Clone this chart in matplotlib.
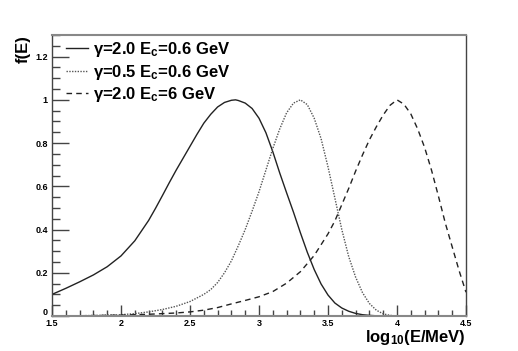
import matplotlib
matplotlib.use("Agg")
import matplotlib.pyplot as plt
import matplotlib.transforms as mtransforms
from matplotlib.ticker import MultipleLocator, FormatStrFormatter

plt.rcParams['font.family'] = ['Liberation Sans', 'DejaVu Sans']
plt.rcParams['font.weight'] = 'bold'
plt.rcParams['mathtext.fontset'] = 'custom'
plt.rcParams['mathtext.rm'] = 'Liberation Sans:bold'
plt.rcParams['mathtext.it'] = 'Liberation Sans:bold'
plt.rcParams['mathtext.bf'] = 'Liberation Sans:bold'
plt.rcParams['mathtext.default'] = 'regular'

# gamma=2.0, Ec=0.6 GeV
x_a = [1.5, 1.6, 1.7, 1.8, 1.9, 2.0, 2.1, 2.2, 2.25, 2.3, 2.35, 2.4, 2.45, 2.5, 2.55,
       2.6, 2.65, 2.7, 2.75, 2.8, 2.83, 2.85, 2.9, 2.95, 3.0, 3.05, 3.1, 3.15, 3.2,
       3.25, 3.3, 3.35, 3.4, 3.45, 3.5, 3.55, 3.6, 3.65, 3.7, 3.75, 3.8, 3.85, 3.9, 4.5]
y_a = [0.100, 0.128, 0.158, 0.190, 0.228, 0.278, 0.348, 0.442, 0.498, 0.557, 0.617,
       0.675, 0.730, 0.785, 0.840, 0.892, 0.933, 0.967, 0.988, 0.998, 1.0, 0.997, 0.985,
       0.960, 0.915, 0.848, 0.760, 0.662, 0.570, 0.480, 0.385, 0.295, 0.215, 0.148,
       0.097, 0.060, 0.037, 0.022, 0.012, 0.006, 0.003, 0.001, 0.0, 0.0]

# gamma=0.5, Ec=0.6 GeV
x_b = [1.5, 1.7, 1.9, 2.0, 2.1, 2.2, 2.3, 2.4, 2.5, 2.6, 2.65, 2.7, 2.75, 2.8, 2.85,
       2.9, 2.95, 3.0, 3.05, 3.1, 3.15, 3.2, 3.25, 3.3, 3.35, 3.4, 3.45, 3.5, 3.55,
       3.6, 3.65, 3.7, 3.75, 3.8, 3.85, 3.9, 3.95, 4.0, 4.5]
y_b = [0.0005, 0.001, 0.004, 0.006, 0.011, 0.019, 0.030, 0.045, 0.067, 0.100, 0.122,
       0.155, 0.200, 0.255, 0.325, 0.400, 0.485, 0.575, 0.675, 0.775, 0.865, 0.940,
       0.985, 1.0, 0.978, 0.915, 0.820, 0.690, 0.545, 0.400, 0.275, 0.180, 0.108,
       0.058, 0.027, 0.010, 0.003, 0.0, 0.0]

# gamma=2.0, Ec=6 GeV
x_c = [1.5, 1.8, 2.0, 2.2, 2.4, 2.5, 2.6, 2.7, 2.8, 2.9, 3.0, 3.1, 3.2, 3.3, 3.4, 3.5,
       3.55, 3.6, 3.65, 3.7, 3.75, 3.8, 3.85, 3.9, 3.95, 4.0, 4.05, 4.1, 4.15, 4.2,
       4.25, 4.3, 4.35, 4.4, 4.45, 4.5]
y_c = [0.0, 0.002, 0.004, 0.008, 0.014, 0.019, 0.027, 0.039, 0.056, 0.072, 0.089,
       0.113, 0.152, 0.205, 0.280, 0.380, 0.440, 0.515, 0.590, 0.670, 0.745, 0.815,
       0.875, 0.930, 0.975, 1.0, 0.980, 0.935, 0.865, 0.780, 0.675, 0.555, 0.430,
       0.320, 0.210, 0.110]

labels = [r"$\gamma$=2.0 E$_{c}$=0.6 GeV", r"$\gamma$=0.5 E$_{c}$=0.6 GeV", r"$\gamma$=2.0 E$_{c}$=6 GeV"]

fig = plt.figure(figsize=(5.18, 3.51), dpi=100)
ax = fig.add_axes([0.1004, 0.0997, 0.7992, 0.8006])

la, = ax.plot(x_a, y_a, color='#222222', lw=1.0, ls='-')
lb, = ax.plot(x_b, y_b, color='#555555', lw=1.0, ls=(0, (1, 1)))
lc, = ax.plot(x_c, y_c, color='#222222', lw=1.0, ls=(0, (4, 3)))

ax.set_xlim(1.5, 4.5)
ax.set_ylim(0, 1.3)
ax.xaxis.set_major_locator(MultipleLocator(0.5))
ax.xaxis.set_minor_locator(MultipleLocator(0.1))
ax.yaxis.set_major_locator(MultipleLocator(0.2))
ax.yaxis.set_minor_locator(MultipleLocator(0.05))
ax.xaxis.set_major_formatter(FormatStrFormatter('%g'))
ax.yaxis.set_major_formatter(FormatStrFormatter('%g'))
ax.tick_params(axis='x', which='major', direction='in', length=8, width=1, labelsize=6.5, pad=2, color='#444444')
ax.tick_params(axis='x', which='minor', direction='in', length=4.5, width=1, color='#444444')
ax.tick_params(axis='y', which='major', direction='in', length=12, width=1, labelsize=6.5, pad=3, color='#444444')
ax.tick_params(axis='y', which='minor', direction='in', length=6, width=1, color='#444444')
for lab in ax.get_xticklabels() + ax.get_yticklabels():
    lab.set_fontweight('bold')

# nudge the y "0" label slightly upward (as in the reference)
fig.canvas.draw()
for lab in ax.get_yticklabels():
    if lab.get_text() == '0':
        lab.set_transform(lab.get_transform() + mtransforms.ScaledTranslation(0, 3.5 / 72, fig.dpi_scale_trans))

for s in ['top', 'bottom']:
    ax.spines[s].set_color('#888888')
    ax.spines[s].set_linewidth(1.5)
for s in ['left', 'right']:
    ax.spines[s].set_color('#444444')
    ax.spines[s].set_linewidth(1.0)

ax.set_xlabel(r"log$_{10}$(E/MeV)", fontsize=12, fontweight='bold', loc='right', labelpad=0)
ax.set_ylabel("f(E)", fontsize=12, fontweight='bold', loc='top', labelpad=3)

leg = ax.legend([la, lb, lc], labels, loc='upper left', frameon=False, fontsize=12,
                handlelength=1.3, handletextpad=0.3, labelspacing=0.22,
                bbox_to_anchor=(0.01, 1.018), borderaxespad=0.2)
for t in leg.get_texts():
    t.set_fontweight('bold')

fig.savefig("out.png", dpi=100)
